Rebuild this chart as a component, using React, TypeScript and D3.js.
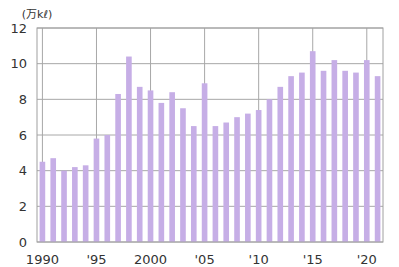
import React from "react";
import * as d3 from "d3";

const years: number[] = d3.range(1990, 2022);
const values: number[] = [
  4.5, 4.7, 4.0, 4.2, 4.3, 5.8, 6.0, 8.3, 10.4, 8.7, 8.5, 7.8, 8.4, 7.5, 6.5, 8.9,
  6.5, 6.7, 7.0, 7.2, 7.4, 8.0, 8.7, 9.3, 9.5, 10.7, 9.6, 10.2, 9.6, 9.5, 10.2, 9.3,
];
const yTicks: number[] = [0, 2, 4, 6, 8, 10, 12];
const xTickYears: number[] = [1990, 1995, 2000, 2005, 2010, 2015, 2020];
const xTickLabels: string[] = ["1990", "'95", "2000", "'05", "'10", "'15", "'20"];
const unitLabel = "(万kℓ)";

const W = 399;
const H = 267;
const M = { left: 37, right: 16, top: 28, bottom: 25 };

export default function App() {
  const x = d3
    .scaleBand<number>()
    .domain(years)
    .range([M.left, W - M.right])
    .paddingInner(0.48)
    .paddingOuter(0.24);
  const y = d3.scaleLinear().domain([0, 12]).range([H - M.bottom, M.top]);
  const cx = (yr: number) => (x(yr) as number) + x.bandwidth() / 2;
  const font = "'DejaVu Sans', 'Noto Sans CJK JP', sans-serif";

  return (
    <svg
      width={W}
      height={H}
      style={{ position: "absolute", left: 0, top: 0, background: "#fff" }}
      fontFamily={font}
    >
      <rect x={0} y={0} width={W} height={H} fill="#fff" />
      {yTicks.map((t) => (
        <line
          key={"gy" + t}
          x1={M.left}
          x2={W - M.right}
          y1={y(t)}
          y2={y(t)}
          stroke="#a8a8a8"
          strokeWidth={1}
        />
      ))}
      {xTickYears.map((yr) => (
        <line
          key={"gx" + yr}
          x1={cx(yr)}
          x2={cx(yr)}
          y1={M.top}
          y2={H - M.bottom}
          stroke="#a8a8a8"
          strokeWidth={1}
        />
      ))}
      {years.map((yr, i) => (
        <rect
          key={yr}
          x={x(yr)}
          y={y(values[i])}
          width={x.bandwidth()}
          height={y(0) - y(values[i])}
          fill="#c6aee6"
        />
      ))}
      <rect
        x={M.left}
        y={M.top}
        width={W - M.left - M.right}
        height={H - M.top - M.bottom}
        fill="none"
        stroke="#a0a0a0"
        strokeWidth={1}
      />
      {yTicks.map((t) => (
        <text
          key={"ty" + t}
          x={27}
          y={y(t)}
          dy="0.36em"
          textAnchor="end"
          fontSize={13}
          fill="#333"
        >
          {t}
        </text>
      ))}
      {xTickYears.map((yr, i) => (
        <text
          key={"tx" + yr}
          x={cx(yr)}
          y={259}
          dy="0.36em"
          textAnchor="middle"
          fontSize={13}
          fill="#333"
        >
          {xTickLabels[i]}
        </text>
      ))}
      <text x={37} y={14} dy="0.36em" textAnchor="middle" fontSize={11} fill="#333">
        {unitLabel}
      </text>
    </svg>
  );
}
